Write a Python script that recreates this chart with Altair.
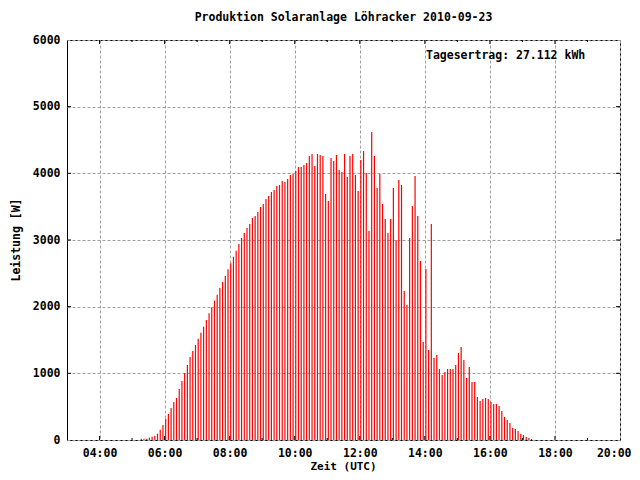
import altair as alt
import pandas as pd

# ---- data ----
start_hour = 5
start_minute = 17
step_minutes = 5
leistung_w = [
    20, 20, 20, 35, 50, 65, 95, 155, 225, 320,
    390, 480, 570, 630, 765, 885, 1005, 1125, 1245, 1335,
    1425, 1520, 1610, 1700, 1800, 1900, 1990, 2090, 2180, 2280,
    2370, 2460, 2560, 2650, 2750, 2840, 2940,
    3030, 3105, 3180, 3240, 3330, 3360, 3420, 3495, 3540, 3615,
    3660, 3720, 3750, 3810, 3825, 3885, 3870, 3915, 3975, 3990,
    4035, 4095, 4095, 4125, 4155, 4260, 4290, 4110, 4290, 4275,
    4260, 3690, 3585, 4230, 4185, 4275, 4050, 4020, 4290, 3945,
    4260, 4290, 3975, 3735, 4200, 4335, 4005, 3135,
    4620, 4260, 3780, 3990, 3540, 3315, 3105, 3315, 3780, 3000,
    3900, 3825, 2235, 2025, 3030, 3510, 3960, 3360, 2685, 1470,
    2565, 1350, 3240,
    1230, 1275, 1065, 975, 1020, 1065, 1065, 1065, 1125, 1305,
    1395, 1200, 930, 1095, 870, 870, 645, 585, 615, 630,
    615, 570, 540, 540, 510, 435, 345, 300, 255, 180,
    165, 135, 90, 75, 45, 30, 15,
]
zeit_h = [start_hour + (start_minute + i * step_minutes) / 60 for i in range(len(leistung_w))]

x_major = [4, 6, 8, 10, 12, 14, 16, 18, 20]
x_minor = [5, 7, 9, 11, 13, 15, 17, 19]
y_major = [0, 1000, 2000, 3000, 4000, 5000, 6000]

title_text = "Produktion Solaranlage Löhracker 2010-09-23"
note_text = "Tagesertrag: 27.112 kWh"
x_title = "Zeit (UTC)"
y_title = "Leistung [W]"

FONT = "DejaVu Sans Mono"
W, H = 553, 400

df = pd.DataFrame({"h": zeit_h, "w": leistung_w})

xscale = alt.Scale(domain=[3, 20], nice=False, zero=False)
yscale = alt.Scale(domain=[0, 6000], nice=False)

bars = alt.Chart(df).mark_rule(color="#ff0000", strokeWidth=1.2).encode(
    x=alt.X("h:Q", scale=xscale,
            axis=alt.Axis(values=x_major, title=None, ticks=False, tickSize=0, domain=False,
                          grid=True, gridColor="#a0a0a0", gridDash=[3, 2], gridWidth=1,
                          labelExpr="(datum.value < 10 ? '0' : '') + datum.value + ':00'",
                          labelFont=FONT, labelFontWeight="bold", labelFontSize=11.5,
                          labelColor="black", labelPadding=7,
                          labelFlush=True, labelFlushOffset=11)),
    y=alt.Y("w:Q", scale=yscale,
            axis=alt.Axis(values=y_major, title=None, ticks=False, tickSize=0, domain=False,
                          grid=True, gridColor="#a0a0a0", gridDash=[3, 2], gridWidth=1,
                          format="d", labelFont=FONT, labelFontWeight="bold",
                          labelFontSize=11.5, labelColor="black", labelPadding=7)),
    y2=alt.datum(0),
)

dmaj = pd.DataFrame({"h": x_major[:-1]})
dmin = pd.DataFrame({"h": x_minor})
dy = pd.DataFrame({"v": y_major[1:-1]})

tick_layers = []
for d, ln in ((dmaj, 4), (dmin, 2)):
    tick_layers.append(alt.Chart(d).mark_rule(color="black", strokeWidth=1).encode(
        x=alt.X("h:Q", scale=xscale), y=alt.value(H), y2=alt.value(H - ln)))
    tick_layers.append(alt.Chart(d).mark_rule(color="black", strokeWidth=1).encode(
        x=alt.X("h:Q", scale=xscale), y=alt.value(0), y2=alt.value(ln)))
tick_layers.append(alt.Chart(dy).mark_rule(color="black", strokeWidth=1).encode(
    y=alt.Y("v:Q", scale=yscale), x=alt.value(0), x2=alt.value(4)))
tick_layers.append(alt.Chart(dy).mark_rule(color="black", strokeWidth=1).encode(
    y=alt.Y("v:Q", scale=yscale), x=alt.value(W), x2=alt.value(W - 4)))


def label(text, x, y, align="center", angle=0, size=11.5):
    return alt.Chart(pd.DataFrame({"t": [text]})).mark_text(
        font=FONT, fontWeight="bold", fontSize=size, color="black",
        align=align, baseline="middle", angle=angle,
    ).encode(text="t:N", x=alt.value(x), y=alt.value(y))


texts = [
    label(title_text, W / 2, -22),
    label(note_text, 359, 16, align="left"),
    label(x_title, W / 2, 427, size=11),
    label(y_title, -50, H / 2, angle=270),
]

chart = alt.layer(bars, *tick_layers, *texts).properties(
    width=W, height=H,
    autosize=alt.AutoSizeParams(type="none"),
    padding={"left": 59, "top": 32, "right": 12, "bottom": 32},
    background="white",
).configure_view(stroke="black", strokeWidth=1)

chart.save("out.html", embed_options={"renderer": "svg", "actions": False})
